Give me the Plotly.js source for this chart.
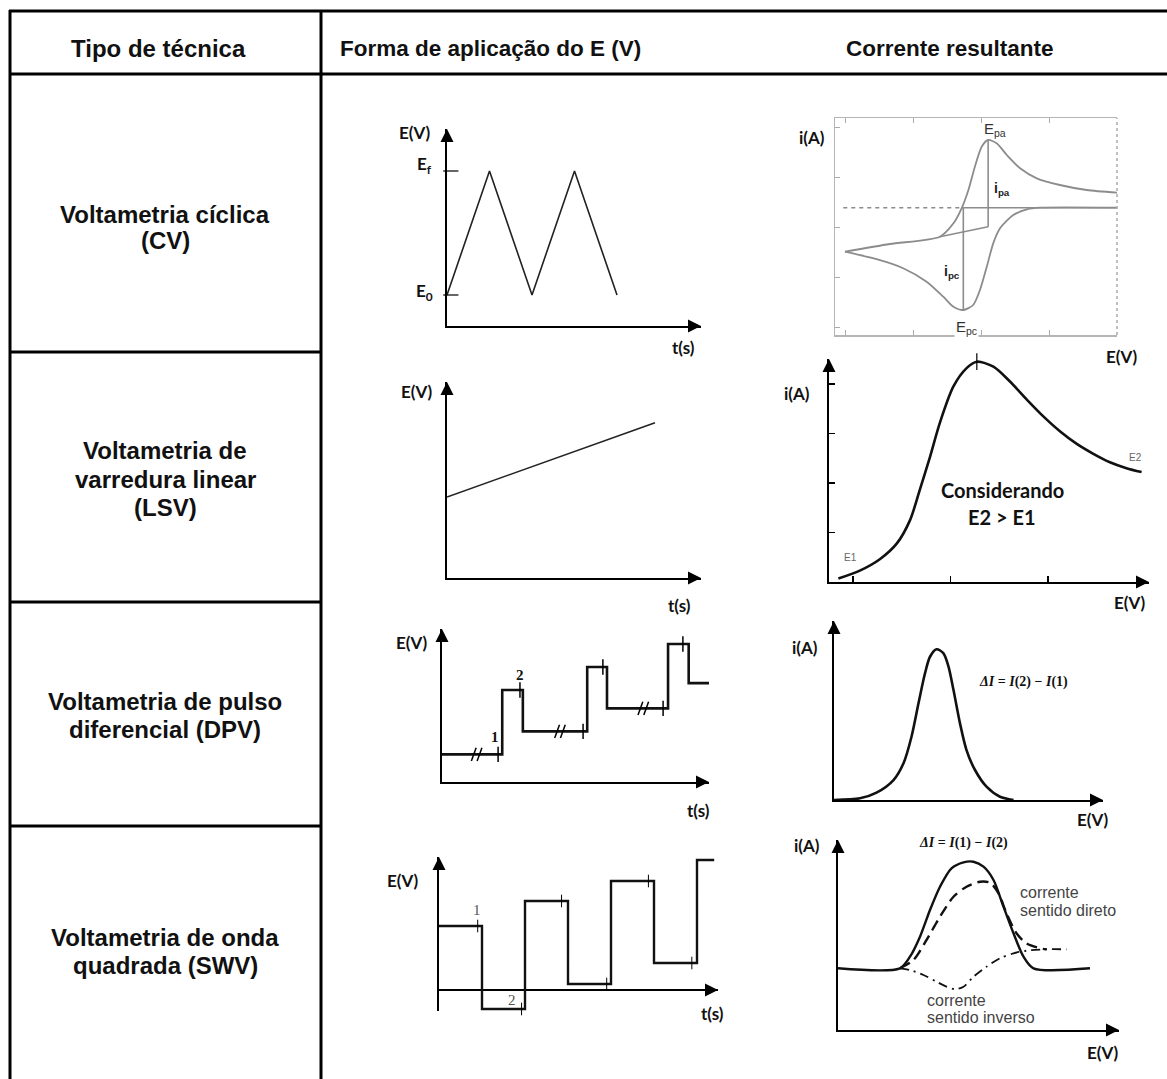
<!DOCTYPE html>
<html><head><meta charset="utf-8">
<script src="https://cdn.plot.ly/plotly-3.0.1.min.js"></script>
<style>html,body{margin:0;padding:0;background:#fff;}#chart{width:1167px;height:1079px;}</style>
</head><body><div id="chart"></div>
<script>
// ================= DATA =================
const headers = ["Tipo de técnica", "Forma de aplicação do E (V)", "Corrente resultante"];
const techniques = [["Voltametria cíclica", "(CV)"], ["Voltametria de", "varredura linear", "(LSV)"],
                    ["Voltametria de pulso", "diferencial (DPV)"], ["Voltametria de onda", "quadrada (SWV)"]];

// CV: potential programme E(t)
const cv_t = [0, 1, 2, 3, 4];
const cv_E = [1, 5, 1, 5, 1];
const cv_levels = [1, 5];
const cv_level_labels = ["E<sub>0</sub>", "E<sub>f</sub>"];
// CV: voltammogram i(E)
const cv_fwd_E = [0, 0.132, 0.279, 0.319, 0.343, 0.363, 0.382, 0.402, 0.421, 0.446, 0.476, 0.515, 0.564, 0.632, 0.711, 0.8];
const cv_fwd_i = [-8.8, -7.26, -5.8, -3.12, -0.12, 3.54, 8.2, 12.2, 13.54, 12.88, 10.54, 7.88, 5.88, 4.54, 3.54, 3.0];
const cv_rev_E = [0.8, 0.574, 0.535, 0.495, 0.456, 0.436, 0.417, 0.397, 0.377, 0.348, 0.319, 0.289, 0.240, 0.171, 0.093, 0];
const cv_rev_i = [0, 0, -0.33, -1.46, -4.13, -7.13, -11.8, -16.46, -19.46, -20.46, -19.8, -17.8, -14.8, -12.1, -10.3, -8.8];
const cv_base_E = [0.279, 0.421];
const cv_base_i = [-5.8, -3.8];
const cv_Epa = [0.421, 13.54];
const cv_Epc = [0.348, -20.46];
const cv_zero_dash_E = [-0.005, 0.343];
const cv_zero_solid_E = [0.343, 0.8];

// LSV
const lsv_t = [0, 10];
const lsv_E = [3.0, 5.75];
const lsv_curve_E = [-0.030, 0.014, 0.055, 0.090, 0.117, 0.137, 0.158, 0.178, 0.206, 0.233, 0.254, 0.288, 0.322, 0.357, 0.391, 0.425, 0.459, 0.493, 0.527, 0.561, 0.592];
const lsv_curve_i = [0.07, 0.23, 0.46, 0.78, 1.25, 1.86, 2.53, 3.21, 3.95, 4.32, 4.45, 4.35, 4.05, 3.68, 3.34, 3.04, 2.79, 2.59, 2.42, 2.30, 2.22];
const lsv_tick_E = [0, 0.2, 0.4];
const lsv_tick_i = [1, 2, 3, 4];

// DPV
const dpv_t = [0, 7.3, 9.8, 17.6, 20.0, 27.4, 29.9, 33.3];
const dpv_E = [1.2, 4.0, 2.2, 5.0, 3.2, 6.0, 4.3, 4.3];
const dpv_sample_t = [6.8, 9.45, 17.1, 19.5, 26.8, 29.2];
const dpv_sample_E = [1.2, 4.0, 2.2, 5.0, 3.2, 6.0];
const dpv_break_t = [4.2, 14.3, 24.4];
const dpv_break_E = [1.2, 2.2, 3.2];
const dpv_curve_E = [0, 0.052, 0.085, 0.119, 0.139, 0.155, 0.169, 0.182, 0.192, 0.205, 0.219, 0.229, 0.239, 0.252, 0.265, 0.282, 0.305, 0.332, 0.359];
const dpv_curve_i = [0, 0.11, 0.49, 1.33, 2.45, 4.22, 6.45, 8.45, 9.55, 10.05, 9.78, 8.89, 7.33, 5.11, 3.33, 2.0, 0.89, 0.22, 0];

// SWV
const swv_t = [0, 1, 2, 3, 4, 5, 6, 6.4];
const swv_E = [6.4, -1.9, 8.9, 0.6, 10.9, 2.7, 13.0, 13.0];
const swv_sample_t = [0.9, 1.92, 2.85, 3.9, 4.87, 5.88];
const swv_sample_E = [6.4, -1.9, 8.9, 0.6, 10.9, 2.7];
const swv_net_E = [0, 0.124, 0.144, 0.164, 0.184, 0.204, 0.227, 0.251, 0.271, 0.291, 0.311, 0.331, 0.351, 0.371, 0.391, 0.504];
const swv_net_i = [6.17, 6.17, 7.33, 9.33, 12.0, 14.33, 16.17, 16.77, 16.83, 16.33, 15.0, 12.33, 9.67, 7.33, 6.17, 6.17];
const swv_fwd_E = [0.124, 0.151, 0.177, 0.204, 0.231, 0.257, 0.284, 0.304, 0.321, 0.337, 0.357, 0.377, 0.404, 0.417];
const swv_fwd_i = [6.17, 7.0, 9.0, 11.33, 13.33, 14.33, 14.83, 14.73, 13.67, 11.67, 9.67, 8.67, 8.17, 8.07];
const swv_rev_E = [0.124, 0.144, 0.171, 0.197, 0.217, 0.234, 0.251, 0.271, 0.297, 0.324, 0.351, 0.377, 0.417, 0.457];
const swv_rev_i = [6.17, 6.0, 5.5, 4.83, 4.33, 4.07, 4.33, 5.33, 6.33, 7.17, 7.67, 7.93, 8.07, 8.07];

// ================= LAYOUT HELPERS =================
const W = 1167, H = 1079;
// pixel box of each panel and its calibration (origin pixel, pixels per unit)
const cal = {
  1: {x0: 447, x1: 701, y0: 129, y1: 326, ox: 447, oy: 326, sx: 42.5, sy: 31},
  2: {x0: 835, x1: 1117, y0: 118, y1: 335, ox: 845, oy: 207.7, sx: 340, sy: 5},
  3: {x0: 447, x1: 701, y0: 382, y1: 578, ox: 447, oy: 578, sx: 20.8, sy: 27},
  4: {x0: 829, x1: 1149, y0: 359, y1: 582, ox: 853, oy: 582, sx: 487.5, sy: 49.5},
  5: {x0: 442, x1: 709, y0: 629, y1: 782, ox: 442, oy: 782, sx: 8.25, sy: 23},
  6: {x0: 834, x1: 1103, y0: 621, y1: 800, ox: 834, oy: 800, sx: 500, sy: 15},
  7: {x0: 439, x1: 718, y0: 857, y1: 1011, ox: 439, oy: 990, sx: 43, sy: 10},
  8: {x0: 838, x1: 1119, y0: 840, y1: 1030, ox: 838, oy: 1030, sx: 500, sy: 10}
};
const sfx = n => (n === 1 ? '' : String(n));

const layout = {
  width: W, height: H, margin: {l: 0, r: 0, t: 0, b: 0},
  paper_bgcolor: '#fff', plot_bgcolor: 'rgba(0,0,0,0)',
  showlegend: false, annotations: [], shapes: []
};

for (let n = 1; n <= 8; n++) {
  const c = cal[n], s = sfx(n);
  const base = {showgrid: false, zeroline: false, showticklabels: false, ticks: '',
                showline: true, linecolor: '#000', linewidth: 2, fixedrange: true};
  layout['xaxis' + s] = Object.assign({}, base, {
    domain: [c.x0 / W, c.x1 / W],
    range: [(c.x0 - c.ox) / c.sx, (c.x1 - c.ox) / c.sx], anchor: 'y' + s});
  layout['yaxis' + s] = Object.assign({}, base, {
    domain: [1 - c.y1 / H, 1 - c.y0 / H],
    range: [(c.oy - c.y1) / c.sy, (c.oy - c.y0) / c.sy], anchor: 'x' + s});
}
// Panel 2 : grey framed voltammogram
Object.assign(layout.xaxis2, {linecolor: '#b5b5b5', linewidth: 1.5, mirror: 'ticks', ticks: 'inside',
  tickvals: [0, 0.2, 0.4, 0.6, 0.8], ticklen: 5, tickcolor: '#aaa', tickwidth: 1});
Object.assign(layout.yaxis2, {linecolor: '#b5b5b5', linewidth: 1.5, ticks: 'inside',
  tickvals: [-24, -14, -4, 6, 16], ticklen: 5, tickcolor: '#aaa', tickwidth: 1});
layout.shapes.push({type: 'line', xref: 'x2 domain', yref: 'y2 domain', x0: 1, x1: 1, y0: 0, y1: 1,
  line: {color: '#aaa', width: 1.5, dash: 'dot'}});
// Panel 4 : inside ticks
Object.assign(layout.xaxis4, {ticks: 'inside', tickvals: lsv_tick_E, ticklen: 6, tickcolor: '#000', tickwidth: 1.5});
Object.assign(layout.yaxis4, {ticks: 'inside', tickvals: lsv_tick_i, ticklen: 6, tickcolor: '#000', tickwidth: 1.5});
// Panel 7 : horizontal axis through E = 0
layout.xaxis7.showline = false;
Object.assign(layout.yaxis7, {zeroline: true, zerolinecolor: '#000', zerolinewidth: 2});

// axis arrow heads
function arrow(xref, yref, x, y, axp, ayp) {
  return {xref, yref, x, y, ax: axp, ay: ayp, text: '', showarrow: true, arrowhead: 2, arrowsize: 1.3,
          arrowwidth: 2, arrowcolor: '#000', standoff: 0};
}
[1, 3, 4, 5, 6, 7, 8].forEach(n => {
  const s = sfx(n);
  layout.annotations.push(arrow('x' + s + ' domain', 'y' + s + ' domain', 0, 1, 0, 12));
  if (n === 7) layout.annotations.push(arrow('x7 domain', 'y7', 1, 0, -12, 0));
  else layout.annotations.push(arrow('x' + s + ' domain', 'y' + s + ' domain', 1, 0, -12, 0));
});

// table lines
function hline(x0, x1, y) { return {type: 'line', xref: 'paper', yref: 'paper', x0: x0 / W, x1: x1 / W, y0: 1 - y / H, y1: 1 - y / H, line: {color: '#000', width: 3}}; }
function vline(x, y0, y1) { return {type: 'line', xref: 'paper', yref: 'paper', x0: x / W, x1: x / W, y0: 1 - y0 / H, y1: 1 - y1 / H, line: {color: '#000', width: 3}}; }
layout.shapes.push(hline(9, 1167, 11), hline(9, 1167, 74), vline(10, 10, 1079), vline(321, 10, 1079),
                   hline(10, 321, 352), hline(10, 321, 602), hline(10, 321, 826));

// E0 / Ef ticks
cv_levels.forEach(v => layout.shapes.push({type: 'line', xref: 'x domain', yref: 'y', x0: -0.015, x1: 0.045, y0: v, y1: v,
  line: {color: '#000', width: 1.2}}));

// text
function A(text, x, y, font, extra) {
  return Object.assign({text, x: x / W, y: 1 - y / H, xref: 'paper', yref: 'paper', showarrow: false,
    xanchor: 'center', yanchor: 'middle', font}, extra || {});
}
const SANS = '"Liberation Sans", Arial, sans-serif';
const CAL = 'Lato, "Open Sans", sans-serif';
const SERIF = '"Liberation Serif", "DejaVu Serif", serif';
const fHead = {family: SANS, size: 24, color: '#111', weight: 700};
const fHead2 = {family: SANS, size: 22.5, color: '#111', weight: 700};
const fRow = {family: SANS, size: 24, color: '#111', weight: 700};
const fAx = {family: CAL, size: 17, color: '#111', weight: 700};

const ann = layout.annotations;
ann.push(A(headers[0], 158, 48, fHead), A(headers[1], 490, 48, fHead2), A(headers[2], 950, 48, fHead2));
const rowLinesY = [[214, 241], [451, 479, 507], [701, 729], [937, 965]];
techniques.forEach((lines, i) => lines.forEach((t, k) => ann.push(A(t, 165, rowLinesY[i][k], fRow))));

// panel 1
ann.push(A('E(V)', 415, 132, fAx), A(cv_level_labels[1], 424, 165, fAx), A(cv_level_labels[0], 424, 292, fAx), A('t(s)', 683, 347, fAx));
// panel 2
const fG = {family: SANS, size: 15, color: '#333'};
const fGb = {family: SANS, size: 14, color: '#222', weight: 700};
ann.push(A('i(A)', 812, 137, fAx), A('E<sub>pa</sub>', 995, 129, fG), A('i<sub>pa</sub>', 1002, 189, fGb),
         A('i<sub>pc</sub>', 952, 272, fGb), A('E<sub>pc</sub>', 966, 327, fG, {bgcolor: '#fff'}), A('E(V)', 1122, 356, fAx));
// panel 3
ann.push(A('E(V)', 417, 391, fAx), A('t(s)', 680, 605, fAx));
// panel 4
const fTiny = {family: SANS, size: 10, color: '#666'};
const fCons = {family: CAL, size: 20, color: '#111', weight: 700};
ann.push(A('i(A)', 797, 393, fAx), A('E1', 850, 557, fTiny), A('E2', 1135, 457, fTiny),
         A('Considerando', 1002, 490, fCons), A('E2 &gt; E1', 1002, 517, fCons), A('E(V)', 1130, 603, fAx));
// panel 5
const fNum = {family: SERIF, size: 15, color: '#111', weight: 700};
ann.push(A('E(V)', 412, 642, fAx), A('1', 495, 737, fNum), A('2', 520, 675, fNum), A('t(s)', 698, 810, fAx));
// panel 6
const fDelta = {family: SERIF, size: 14, color: '#111', weight: 700};
ann.push(A('i(A)', 805, 647, fAx), A('<i>ΔI</i> = <i>I</i>(2) − <i>I</i>(1)', 1023, 682, fDelta), A('E(V)', 1093, 820, fAx));
// panel 7
const fNum2 = {family: SERIF, size: 15, color: '#555'};
ann.push(A('E(V)', 403, 880, fAx), A('1', 477, 910, fNum2), A('2', 512, 1000, fNum2), A('t(s)', 712, 1013, fAx));
// panel 8
const fTxt = {family: SANS, size: 16, color: '#444'};
ann.push(A('i(A)', 807, 845, fAx), A('<i>ΔI</i> = <i>I</i>(1) − <i>I</i>(2)', 963, 843, fDelta),
         A('corrente', 1018, 892, fTxt, {xanchor: 'left'}), A('sentido direto', 1018, 910, fTxt, {xanchor: 'left'}),
         A('corrente', 925, 1000, fTxt, {xanchor: 'left'}), A('sentido inverso', 925, 1017, fTxt, {xanchor: 'left'}),
         A('E(V)', 1103, 1052, fAx));

// ================= TRACES =================
const ax = n => ({xaxis: 'x' + sfx(n), yaxis: 'y' + sfx(n), hoverinfo: 'skip', cliponaxis: false});
const L = (x, y, n, line, extra) => Object.assign({type: 'scatter', mode: 'lines', x, y, line}, ax(n), extra || {});
const M = (x, y, n, marker) => Object.assign({type: 'scatter', mode: 'markers', x, y, marker}, ax(n));
const tickMarker = (size, w) => ({symbol: 'line-ns', size, color: '#000', line: {color: '#000', width: w}});

const grey = '#8c8c8c';
const traces = [
  // 1
  L(cv_t, cv_E, 1, {color: '#222', width: 1.6}),
  // 2
  L(cv_zero_dash_E, [0, 0], 2, {color: grey, width: 1.6, dash: '4px,4px'}),
  L(cv_zero_solid_E, [0, 0], 2, {color: grey, width: 1.6}),
  L(cv_fwd_E, cv_fwd_i, 2, {color: grey, width: 1.8, shape: 'spline', smoothing: 0.7}),
  L(cv_rev_E, cv_rev_i, 2, {color: grey, width: 1.8, shape: 'spline', smoothing: 0.7}),
  L(cv_base_E, cv_base_i, 2, {color: grey, width: 1.6}),
  L([cv_Epa[0], cv_Epa[0]], [cv_Epa[1], cv_base_i[1]], 2, {color: grey, width: 1.6}),
  L([cv_Epc[0], cv_Epc[0]], [0, cv_Epc[1]], 2, {color: grey, width: 1.6}),
  // 3
  L(lsv_t, lsv_E, 3, {color: '#222', width: 1.6}),
  // 4
  L(lsv_curve_E, lsv_curve_i, 4, {color: '#111', width: 2.6, shape: 'spline', smoothing: 0.8}),
  M([lsv_curve_E[lsv_curve_i.indexOf(Math.max(...lsv_curve_i))]], [Math.max(...lsv_curve_i)], 4, tickMarker(12, 1.2)),
  // 5
  L(dpv_t, dpv_E, 5, {color: '#111', width: 2.6, shape: 'hv'}),
  M(dpv_sample_t, dpv_sample_E, 5, tickMarker(11, 1.5)),
  M(dpv_break_t.flatMap(t => [t - 0.35, t + 0.35]), dpv_break_E.flatMap(e => [e, e]), 5,
    Object.assign(tickMarker(10, 1.5), {angle: 20})),
  // 6
  L(dpv_curve_E, dpv_curve_i, 6, {color: '#111', width: 2.6, shape: 'spline', smoothing: 0.8}),
  // 7
  L(swv_t, swv_E, 7, {color: '#111', width: 2.4, shape: 'hv'}),
  M(swv_sample_t, swv_sample_E, 7, tickMarker(9, 1)),
  // 8
  L(swv_net_E, swv_net_i, 8, {color: '#111', width: 2.4, shape: 'spline', smoothing: 0.8}),
  L(swv_fwd_E, swv_fwd_i, 8, {color: '#111', width: 2.4, shape: 'spline', smoothing: 0.8, dash: '11px,6px'}),
  L(swv_rev_E, swv_rev_i, 8, {color: '#111', width: 1.8, shape: 'spline', smoothing: 0.8, dash: '9px,5px,2px,5px'})
];

Plotly.newPlot('chart', traces, layout, {staticPlot: true, displayModeBar: false});
</script>
</body></html>
